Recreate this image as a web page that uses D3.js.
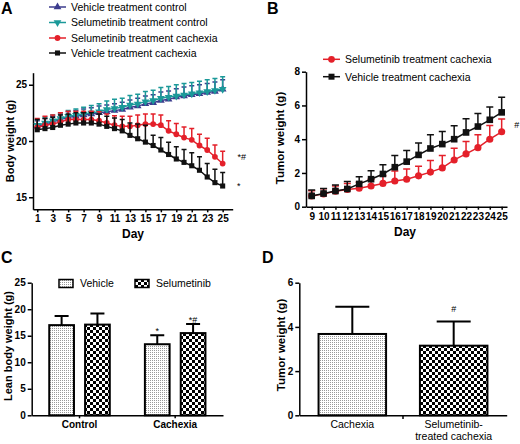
<!DOCTYPE html>
<html>
<head>
<meta charset="utf-8">
<script src="https://cdn.jsdelivr.net/npm/d3@7/dist/d3.min.js"></script>
<style>
  body { margin: 0; background: #fff; }
  svg { font-family: Arial, "Liberation Sans", sans-serif; }
  .axis path, .axis line { stroke: #000; stroke-width: 1.5px; }
  .axis text { font-weight: bold; font-size: 10px; fill: #000; font-family: Arial, "Liberation Sans", sans-serif; }
  .lbl { font-weight: bold; fill: #000; }
</style>
</head>
<body>
<script>
// ---- A: body weight over days (g)
const daysA = [1,2,3,4,5,6,7,8,9,10,11,12,13,14,15,16,17,18,19,20,21,22,23,24,25];
const vehCtrlA    = [21.3,21.5,21.7,21.9,22.1,22.2,22.3,22.4,22.5,22.6,22.7,22.8,23.0,23.1,23.3,23.4,23.6,23.7,23.9,24.0,24.1,24.2,24.3,24.4,24.6];
const vehCtrlErrA = [0.5,0.5,0.5,0.5,0.5,0.5,0.55,0.55,0.6,0.6,0.6,0.65,0.65,0.7,0.7,0.7,0.75,0.75,0.75,0.8,0.8,0.8,0.8,0.85,0.85];
const selCtrlA    = [21.4,21.6,21.8,22.0,22.2,22.3,22.4,22.5,22.6,22.8,22.9,23.0,23.2,23.3,23.5,23.6,23.8,23.9,24.0,24.1,24.2,24.3,24.4,24.5,24.6];
const selCtrlErrA = [0.5,0.5,0.5,0.5,0.5,0.55,0.6,0.65,0.7,0.75,0.8,0.8,0.85,0.85,0.9,0.9,0.95,0.95,1.0,1.0,1.0,1.0,1.05,1.05,1.1];
const selCachA    = [21.2,21.4,21.5,21.7,21.9,21.9,21.9,21.9,21.8,21.6,21.4,21.3,21.3,21.4,21.5,21.5,21.4,20.9,20.6,20.3,20.1,19.6,19.2,18.6,18.0];
const selCachErrA = [0.8,0.8,0.8,0.8,0.75,0.75,0.75,0.75,0.8,0.8,0.85,0.9,0.9,0.9,0.9,0.9,0.9,0.9,0.95,0.95,1.0,1.0,1.05,1.05,1.1];
const vehCachA    = [21.0,21.1,21.2,21.4,21.5,21.6,21.6,21.6,21.5,21.3,21.1,20.9,20.5,20.2,19.9,19.6,19.2,18.8,18.4,18.1,17.8,17.4,16.8,16.3,16.0];
const vehCachErrA = [0.9,0.9,0.9,0.9,0.9,0.9,0.9,0.9,0.9,0.9,0.95,1.0,1.1,1.3,1.5,0.9,1.1,1.1,1.1,1.15,1.15,1.2,1.2,1.2,1.2];
const tickDaysA = [1,3,5,7,9,11,13,15,17,19,21,23,25];

// ---- B: tumor weight over days (g)
const daysB = [9,10,11,12,13,14,15,16,17,18,19,20,21,22,23,24,25];
const selCachB    = [0.64,0.76,0.92,1.02,1.1,1.23,1.38,1.52,1.63,1.83,2.05,2.3,2.77,3.13,3.5,4.0,4.44];
const selCachErrB = [0.3,0.3,0.3,0.35,0.35,0.4,0.45,0.6,0.6,0.56,0.69,0.73,0.7,0.73,0.76,0.81,0.75];
const vehCachB    = [0.64,0.78,0.93,1.05,1.35,1.63,1.94,2.34,2.67,3.07,3.45,3.71,4.0,4.4,4.75,5.15,5.59];
const vehCachErrB = [0.35,0.3,0.35,0.45,0.43,0.5,0.54,0.69,0.66,0.7,0.81,0.75,0.79,0.81,0.78,0.76,0.89];

// ---- C: lean body weight (g)
const groupsC = ["Control", "Cachexia"];
const treatC = ["Vehicle", "Selumetinib"];
const vehicleC = [17.0, 13.4];
const vehicleErrC = [1.7, 1.7];
const selumC = [17.1, 15.5];
const selumErrC = [2.1, 1.7];

// ---- D: tumor weight (g)
const catsD = ["Cachexia", "Selumetinib-treated cachexia"];
const tumorD = [3.68, 3.15];
const tumorErrD = [1.23, 1.09];

const blue = "#3c3c8e", teal = "#1b9999", red = "#e4202a", black = "#111";
const intFmt = d3.format("d");

const svg = d3.select("body").append("svg").attr("width", 520).attr("height", 444);
const defs = svg.append("defs");
const pDots = defs.append("pattern").attr("id", "dots")
  .attr("patternUnits", "userSpaceOnUse").attr("width", 2).attr("height", 2);
pDots.append("rect").attr("width", 2).attr("height", 2).attr("fill", "#fff");
pDots.append("rect").attr("width", 1).attr("height", 1).attr("fill", "#999");
const pChk = defs.append("pattern").attr("id", "checks")
  .attr("patternUnits", "userSpaceOnUse").attr("width", 6).attr("height", 6);
pChk.append("rect").attr("width", 6).attr("height", 6).attr("fill", "#fff");
pChk.append("rect").attr("width", 3).attr("height", 3).attr("fill", "#000");
pChk.append("rect").attr("x", 3).attr("y", 3).attr("width", 3).attr("height", 3).attr("fill", "#000");

function panelLetter(t, x, y) {
  svg.append("text").attr("x", x).attr("y", y).attr("class", "lbl")
    .attr("font-size", 16).text(t);
}
function yLabel(t, x, y, size) {
  svg.append("text").attr("class", "lbl").attr("font-size", size)
    .attr("text-anchor", "middle")
    .attr("transform", `translate(${x},${y}) rotate(-90)`).text(t);
}
function note(t, x, y) {
  svg.append("text").attr("x", x).attr("y", y).attr("font-size", 9)
    .attr("text-anchor", "middle").text(t);
}

const shapes = {
  up: { type: d3.symbolTriangle, rot: 0 },
  down: { type: d3.symbolTriangle, rot: 180 },
  circle: { type: d3.symbolCircle, rot: 0 },
  square: { type: d3.symbolSquare, rot: 0 }
};

function drawSeries(g, x, y, days, vals, errs, color, shape, size, cap) {
  const pts = days.map((d, i) => ({ d: d, v: vals[i], e: errs[i] }));
  const s = g.append("g");
  s.selectAll("path.eb").data(pts).enter().append("path")
    .attr("d", p => `M${x(p.d)},${y(p.v)}V${y(p.v + p.e)}M${x(p.d) - cap / 2},${y(p.v + p.e)}h${cap}`)
    .attr("stroke", color).attr("stroke-width", 1.5).attr("fill", "none");
  s.append("path").datum(pts)
    .attr("d", d3.line().x(p => x(p.d)).y(p => y(p.v)))
    .attr("stroke", color).attr("stroke-width", 1.5).attr("fill", "none");
  const sh = shapes[shape];
  s.selectAll("path.mk").data(pts).enter().append("path")
    .attr("d", d3.symbol().type(sh.type).size(size))
    .attr("transform", p => `translate(${x(p.d)},${y(p.v)}) rotate(${sh.rot})`)
    .attr("fill", color);
}

function legendRow(g, x, y, color, shape, size, label) {
  g.append("line").attr("x1", x).attr("x2", x + 17).attr("y1", y).attr("y2", y)
    .attr("stroke", color).attr("stroke-width", 1.5);
  const sh = shapes[shape];
  g.append("path").attr("d", d3.symbol().type(sh.type).size(size)())
    .attr("transform", `translate(${x + 8.5},${y}) rotate(${sh.rot})`).attr("fill", color);
  g.append("text").attr("x", x + 22).attr("y", y + 3.8).attr("font-size", 10.5).text(label);
}

// ================= Panel A =================
const gA = svg.append("g");
const xA = d3.scaleLinear().domain([0.45, 26.3]).range([33, 232.7]);
const yA = d3.scaleLinear().domain([13.93, 26.07]).range([209.3, 72.7]);
gA.append("g").attr("class", "axis").attr("transform", "translate(0,209.3)")
  .call(d3.axisBottom(xA).tickValues(tickDaysA).tickFormat(intFmt).tickSize(3).tickSizeOuter(0).tickPadding(3));
gA.append("g").attr("class", "axis").attr("transform", "translate(33,0)")
  .call(d3.axisLeft(yA).tickValues([15, 20, 25]).tickFormat(intFmt).tickSize(4).tickSizeOuter(0).tickPadding(2));
drawSeries(gA, xA, yA, daysA, vehCtrlA, vehCtrlErrA, blue, "up", 26, 5);
drawSeries(gA, xA, yA, daysA, selCtrlA, selCtrlErrA, teal, "down", 26, 5);
drawSeries(gA, xA, yA, daysA, selCachA, selCachErrA, red, "circle", 26, 5);
drawSeries(gA, xA, yA, daysA, vehCachA, vehCachErrA, black, "square", 26, 5);
const legA = svg.append("g");
legendRow(legA, 49, 7, blue, "up", 26, "Vehicle treatment control");
legendRow(legA, 49, 22.5, teal, "down", 26, "Selumetinib treatment control");
legendRow(legA, 49, 38, red, "circle", 26, "Selumetinib treatment cachexia");
legendRow(legA, 49, 53, black, "square", 26, "Vehicle treatment cachexia");
panelLetter("A", 1, 14);
yLabel("Body weight (g)", 14, yA(20), 11);
svg.append("text").attr("class", "lbl").attr("font-size", 12).attr("text-anchor", "middle")
  .attr("x", 133).attr("y", 238).text("Day");
note("*#", xA(25) + 19, yA(selCachA[24]) - 4);
note("*", xA(25) + 16, yA(vehCachA[24]) + 3);

// ================= Panel B =================
const gB = svg.append("g");
const xB = d3.scaleLinear().domain([8.52, 25.45]).range([306, 507]);
const yB = d3.scaleLinear().domain([0, 8]).range([206.7, 71.7]);
gB.append("g").attr("class", "axis").attr("transform", "translate(0,206.7)")
  .call(d3.axisBottom(xB).tickValues(daysB).tickFormat(intFmt).tickSize(3).tickSizeOuter(0).tickPadding(3));
gB.append("g").attr("class", "axis").attr("transform", "translate(306,0)")
  .call(d3.axisLeft(yB).tickValues([0, 2, 4, 6, 8]).tickFormat(intFmt).tickSize(4).tickSizeOuter(0).tickPadding(2));
drawSeries(gB, xB, yB, daysB, selCachB, selCachErrB, red, "circle", 40, 7);
drawSeries(gB, xB, yB, daysB, vehCachB, vehCachErrB, black, "square", 44, 7);
const legB = svg.append("g");
legendRow(legB, 323, 59.3, red, "circle", 36, "Selumetinib treatment cachexia");
legendRow(legB, 323, 76.7, black, "square", 36, "Vehicle treatment cachexia");
panelLetter("B", 267, 14);
yLabel("Tumor weight (g)", 284, 138, 11.5);
svg.append("text").attr("class", "lbl").attr("font-size", 12).attr("text-anchor", "middle")
  .attr("x", 405).attr("y", 236).text("Day");
note("#", xB(25) + 15, yB(vehCachB[16] - 0.9));

// ================= Panel C =================
const gC = svg.append("g");
const x0C = d3.scaleBand().domain(groupsC).range([31.7, 223]);
const x1C = d3.scaleBand().domain(treatC).range([0, x0C.bandwidth()]).paddingInner(0.31).paddingOuter(0.49);
const yC = d3.scaleLinear().domain([0, 25]).range([415.3, 282.7]);
const barsC = [];
groupsC.forEach((gname, i) => {
  barsC.push({ g: gname, t: "Vehicle", v: vehicleC[i], e: vehicleErrC[i] });
  barsC.push({ g: gname, t: "Selumetinib", v: selumC[i], e: selumErrC[i] });
});
const bC = gC.selectAll("g.bar").data(barsC).enter().append("g");
bC.append("path").attr("d", b => {
  const cx = x0C(b.g) + x1C(b.t) + x1C.bandwidth() / 2, cw = 14;
  return `M${cx},${yC(b.v)}V${yC(b.v + b.e)}M${cx - cw / 2},${yC(b.v + b.e)}h${cw}`;
}).attr("stroke", "#000").attr("stroke-width", 2);
bC.append("rect")
  .attr("x", b => x0C(b.g) + x1C(b.t)).attr("width", x1C.bandwidth())
  .attr("y", b => yC(b.v)).attr("height", b => yC(0) - yC(b.v))
  .attr("fill", b => b.t === "Vehicle" ? "url(#dots)" : "url(#checks)")
  .attr("stroke", "#000").attr("stroke-width", 2);
gC.append("g").attr("class", "axis").attr("transform", "translate(0,415.3)")
  .call(d3.axisBottom(x0C).tickSize(3).tickSizeOuter(0).tickPadding(3));
gC.append("g").attr("class", "axis").attr("transform", "translate(31.7,0)")
  .call(d3.axisLeft(yC).tickValues([0, 5, 10, 15, 20, 25]).tickFormat(intFmt).tickSize(4).tickSizeOuter(0).tickPadding(2));
const legC = svg.append("g");
[["Vehicle", "url(#dots)", 59], ["Selumetinib", "url(#checks)", 135]].forEach(l => {
  legC.append("rect").attr("x", l[2]).attr("y", 279.5).attr("width", 14).attr("height", 8)
    .attr("fill", l[1]).attr("stroke", "#000").attr("stroke-width", 1.5);
  legC.append("text").attr("x", l[2] + 21).attr("y", 287).attr("font-size", 10.5).text(l[0]);
});
panelLetter("C", 1, 263);
yLabel("Lean body weight (g)", 11.5, 346, 11);
const cxC = (g, t) => x0C(g) + x1C(t) + x1C.bandwidth() / 2;
note("*", cxC("Cachexia", "Vehicle"), yC(vehicleC[1] + vehicleErrC[1]) - 1.5);
note("*#", cxC("Cachexia", "Selumetinib"), yC(selumC[1] + selumErrC[1]) - 1);

// ================= Panel D =================
const gD = svg.append("g");
const xD = d3.scaleBand().domain(catsD).range([299.3, 506.7]).paddingInner(0.334).paddingOuter(0.19);
const yD = d3.scaleLinear().domain([0, 6]).range([415.3, 282.7]);
const bD = gD.selectAll("g.bar").data(catsD.map((c, i) => ({ c: c, v: tumorD[i], e: tumorErrD[i] })))
  .enter().append("g");
bD.append("path").attr("d", b => {
  const cx = xD(b.c) + xD.bandwidth() / 2, cw = 34;
  return `M${cx},${yD(b.v)}V${yD(b.v + b.e)}M${cx - cw / 2},${yD(b.v + b.e)}h${cw}`;
}).attr("stroke", "#000").attr("stroke-width", 2);
bD.append("rect")
  .attr("x", b => xD(b.c)).attr("width", xD.bandwidth())
  .attr("y", b => yD(b.v)).attr("height", b => yD(0) - yD(b.v))
  .attr("fill", (b, i) => i === 0 ? "url(#dots)" : "url(#checks)")
  .attr("stroke", "#000").attr("stroke-width", 2);
gD.append("g").attr("class", "axis").attr("transform", "translate(0,415.3)")
  .call(d3.axisBottom(xD).tickValues([]).tickSizeOuter(0));
const sepD = xD(catsD[1]) - xD.step() * xD.paddingInner() / 2;
gD.append("line").attr("x1", sepD).attr("x2", sepD).attr("y1", 415.3).attr("y2", 419)
  .attr("stroke", "#000").attr("stroke-width", 1.5);
gD.append("g").attr("class", "axis").attr("transform", "translate(299.3,0)")
  .call(d3.axisLeft(yD).tickValues([0, 2, 4, 6]).tickFormat(intFmt).tickSize(4).tickSizeOuter(0).tickPadding(2));
const labD = [["Cachexia"], ["Selumetinib-", "treated cachexia"]];
catsD.forEach((c, i) => {
  const t = gD.append("text").attr("text-anchor", "middle").attr("font-size", 10.5)
    .attr("x", xD(c) + xD.bandwidth() / 2).attr("y", 428);
  labD[i].forEach((s, k) => t.append("tspan").attr("x", xD(c) + xD.bandwidth() / 2)
    .attr("dy", k === 0 ? 0 : 12).text(s));
});
panelLetter("D", 262, 263);
yLabel("Tumor weight (g)", 285, 345, 11.5);
note("#", xD(catsD[1]) + xD.bandwidth() / 2, yD(tumorD[1] + tumorErrD[1]) - 10);
</script>
</body>
</html>
